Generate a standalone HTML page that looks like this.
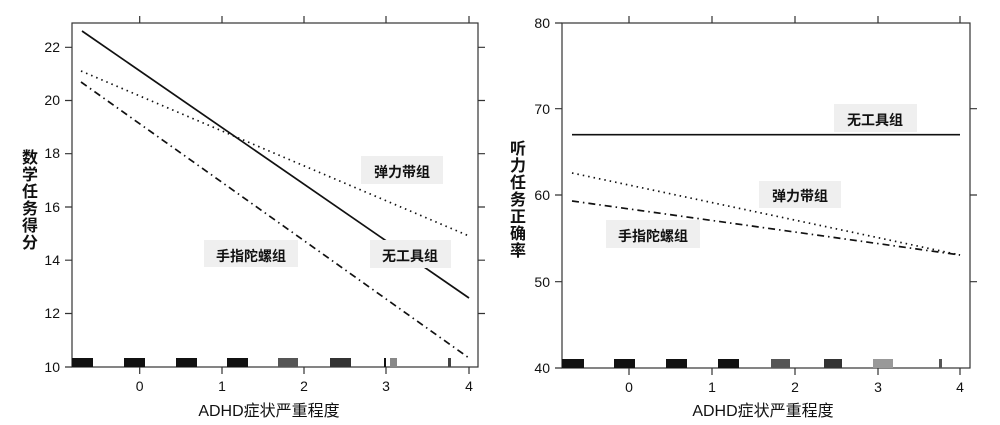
<!DOCTYPE html>
<html><head><meta charset="utf-8"><style>
html,body{margin:0;padding:0;background:#fff;width:1000px;height:425px;overflow:hidden}
text{font-family:"Liberation Sans","Noto Sans CJK SC",sans-serif;fill:#111}
</style></head><body>
<svg width="1000" height="425" viewBox="0 0 1000 425" xmlns="http://www.w3.org/2000/svg">
<g stroke="#333" stroke-width="1.2" fill="none">
<rect x="72" y="23" width="406" height="344"/>
<path d="M65 47.3H72M65 100.5H72M65 153.7H72M65 207H72M65 260.2H72M65 313.5H72M65 367H72
M478 47.3H485M478 100.5H485M478 153.7H485M478 207H485M478 260.2H485M478 313.5H485
M139.7 367V374M222 367V374M304 367V374M386 367V374M469 367V374
M139.7 23V16M222 23V16M304 23V16M386 23V16M469 23V16"/>
<rect x="562" y="23" width="408" height="345"/>
<path d="M555 23H562M555 108.7H562M555 195H562M555 281.7H562M555 368H562
M970 108.7H977M970 195H977M970 281.7H977
M629 368V375M712 368V375M795 368V375M878 368V375M960 368V375
M629 23V16M712 23V16M795 23V16M878 23V16M960 23V16"/>
</g>
<g fill="none" stroke="#111" stroke-width="1.7">
<line x1="82" y1="31" x2="469" y2="298"/>
<line x1="81" y1="71" x2="469" y2="236" stroke-dasharray="1.5 4"/>
<line x1="81" y1="82" x2="469" y2="358" stroke-dasharray="7 4 1.5 4"/>
<line x1="572" y1="134.7" x2="960" y2="134.7"/>
<line x1="572" y1="173" x2="960" y2="255" stroke-dasharray="1.5 4"/>
<line x1="572" y1="201" x2="960" y2="255" stroke-dasharray="7 4 1.5 4"/>
</g>
<g fill="#efefef">
<rect x="361" y="156" width="82" height="28"/>
<rect x="204" y="240" width="94" height="27"/>
<rect x="370" y="240" width="81" height="28"/>
<rect x="834" y="104" width="83" height="28"/>
<rect x="759" y="181" width="82" height="27"/>
<rect x="606" y="220" width="94" height="28"/>
</g>
<g fill="#111">
<rect x="72" y="358" width="21" height="9"/><rect x="124" y="358" width="21" height="9"/><rect x="176" y="358" width="21" height="9"/><rect x="227" y="358" width="21" height="9"/>
<rect x="278" y="358" width="20" height="9" fill="#555"/><rect x="330" y="358" width="21" height="9" fill="#333"/><rect x="384" y="358" width="2" height="9"/><rect x="390" y="358" width="7" height="9" fill="#888"/><rect x="448" y="358" width="3" height="9" fill="#444"/>
<rect x="562" y="359" width="22" height="9"/><rect x="614" y="359" width="21" height="9"/><rect x="666" y="359" width="21" height="9"/><rect x="718" y="359" width="21" height="9"/>
<rect x="771" y="359" width="19" height="9" fill="#555"/><rect x="824" y="359" width="18" height="9" fill="#333"/><rect x="873" y="359" width="20" height="9" fill="#999"/><rect x="939" y="359" width="3" height="9" fill="#555"/>
</g>
<g font-size="14" text-anchor="end">
<text x="60" y="52">22</text><text x="60" y="105">20</text><text x="60" y="158">18</text><text x="60" y="212">16</text><text x="60" y="265">14</text><text x="60" y="318">12</text><text x="60" y="372">10</text>
<text x="550" y="28">80</text><text x="550" y="114">70</text><text x="550" y="200">60</text><text x="550" y="287">50</text><text x="550" y="373">40</text>
</g>
<g font-size="14" text-anchor="middle">
<text x="139.7" y="391">0</text><text x="222" y="391">1</text><text x="304" y="391">2</text><text x="386" y="391">3</text><text x="469" y="391">4</text>
<text x="629" y="392">0</text><text x="712" y="392">1</text><text x="795" y="392">2</text><text x="878" y="392">3</text><text x="960" y="392">4</text>
</g>
<g font-size="16" text-anchor="middle">
<text x="269" y="416">ADHD症状严重程度</text>
<text x="763" y="416">ADHD症状严重程度</text>
</g>
<g font-size="16" text-anchor="middle" font-weight="bold">
<text x="30"><tspan x="30" y="163">数</tspan><tspan x="30" y="180">学</tspan><tspan x="30" y="197">任</tspan><tspan x="30" y="214">务</tspan><tspan x="30" y="231">得</tspan><tspan x="30" y="248">分</tspan></text>
<text x="518"><tspan x="518" y="154">听</tspan><tspan x="518" y="171">力</tspan><tspan x="518" y="188">任</tspan><tspan x="518" y="205">务</tspan><tspan x="518" y="222">正</tspan><tspan x="518" y="239">确</tspan><tspan x="518" y="256">率</tspan></text>
</g>
<g font-size="14" text-anchor="middle" font-weight="bold">
<text x="402" y="177">弹力带组</text>
<text x="251" y="261">手指陀螺组</text>
<text x="410" y="261">无工具组</text>
<text x="875" y="125">无工具组</text>
<text x="800" y="201">弹力带组</text>
<text x="653" y="241">手指陀螺组</text>
</g>
</svg>
</body></html>
